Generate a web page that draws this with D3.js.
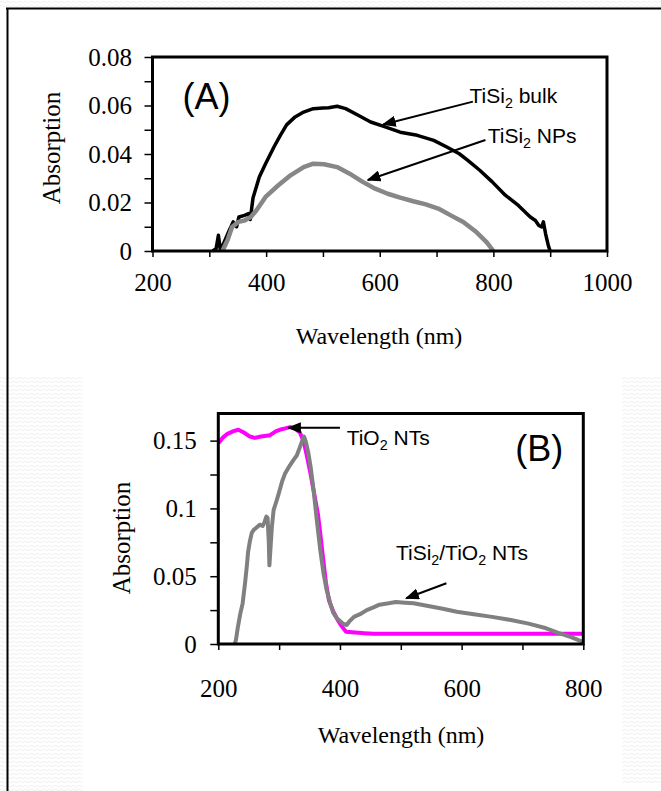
<!DOCTYPE html>
<html>
<head>
<meta charset="utf-8">
<script src="https://cdn.jsdelivr.net/npm/d3@7"></script>
<style>
  body { margin: 0; background: #fff; }
  svg { display: block; }
</style>
</head>
<body>
<svg id="fig" width="661" height="791"></svg>
<script>
// ---- panel (A) data ----
const bulkNm  = [306, 312, 316, 319, 325, 335, 342, 348, 352, 362, 369, 372, 377, 388, 399, 414, 425, 436, 451, 466, 483, 500, 510, 525, 540, 562, 584, 607, 636, 666, 695, 718, 740, 755, 776, 798, 821, 844, 859, 865, 874, 880, 885, 888, 892, 897, 900];
const bulkAbs = [0, 0.001, 0.0065, 0.001, 0.003, 0.0085, 0.012, 0.010, 0.014, 0.0147, 0.0154, 0.013, 0.022, 0.0305, 0.036, 0.043, 0.0477, 0.052, 0.0553, 0.0573, 0.0587, 0.059, 0.0591, 0.0597, 0.0587, 0.056, 0.0532, 0.0514, 0.049, 0.0477, 0.0456, 0.0429, 0.0401, 0.0374, 0.0333, 0.0285, 0.023, 0.0188, 0.0154, 0.014, 0.0126, 0.0105, 0.0099, 0.012, 0.007, 0.002, 0];
const npsNm  = [323, 332, 340, 351, 362, 373, 383, 399, 421, 443, 466, 483, 502, 525, 547, 570, 592, 614, 636, 659, 681, 703, 725, 747, 770, 788, 800];
const npsAbs = [0, 0.0044, 0.0099, 0.012, 0.0126, 0.014, 0.0168, 0.0223, 0.027, 0.0312, 0.0346, 0.0360, 0.0358, 0.0346, 0.0319, 0.0285, 0.0257, 0.0236, 0.022, 0.0205, 0.0192, 0.0175, 0.0147, 0.012, 0.0078, 0.0037, 0];

// ---- panel (B) data ----
const tio2Nm  = [200, 207, 215, 225, 233, 242, 252, 260, 270, 285, 295, 301, 310, 318, 326, 334, 340, 345, 351, 358, 364, 368, 372, 377, 382, 389, 396, 403, 410, 425, 440, 455, 600, 800];
const tio2Abs = [0.148, 0.152, 0.155, 0.157, 0.158, 0.156, 0.153, 0.152, 0.153, 0.154, 0.157, 0.158, 0.159, 0.160, 0.159, 0.156, 0.150, 0.140, 0.127, 0.110, 0.095, 0.080, 0.064, 0.045, 0.032, 0.024, 0.018, 0.013, 0.009, 0.0085, 0.008, 0.0075, 0.0075, 0.0075];
const compNm  = [227, 229, 232, 236, 240, 244, 247, 249, 252, 255, 258, 263, 268, 273, 276, 279, 281, 283, 284, 286, 288, 291, 296, 300, 305, 310, 318, 324, 329, 334, 338, 341, 344, 348, 352, 357, 362, 368, 373, 378, 384, 389, 395, 400, 405, 411, 416, 423, 433, 444, 455, 465, 480, 492, 507, 521, 545, 569, 592, 620, 650, 681, 710, 739, 760, 780, 798, 800];
const compAbs = [0, 0.003, 0.012, 0.022, 0.030, 0.045, 0.058, 0.068, 0.076, 0.082, 0.084, 0.086, 0.088, 0.087, 0.090, 0.094, 0.093, 0.075, 0.058, 0.072, 0.086, 0.099, 0.106, 0.112, 0.120, 0.126, 0.132, 0.136, 0.139, 0.145, 0.150, 0.153, 0.149, 0.141, 0.130, 0.112, 0.091, 0.068, 0.052, 0.040, 0.030, 0.023, 0.019, 0.017, 0.015, 0.014, 0.017, 0.020, 0.022, 0.025, 0.027, 0.029, 0.030, 0.031, 0.0305, 0.030, 0.028, 0.026, 0.0238, 0.022, 0.020, 0.0177, 0.015, 0.0116, 0.008, 0.005, 0.0017, 0.0015];

// ---- ticks ----
const aXTicks = [200, 300, 400, 500, 600, 700, 800, 900, 1000];
const aXLabels = [200, 400, 600, 800, 1000];
const aYTicks = [0, 0.01, 0.02, 0.03, 0.04, 0.05, 0.06, 0.07, 0.08];
const aYLabels = ["0", "0.02", "0.04", "0.06", "0.08"];
const bXTicks = [200, 300, 400, 500, 600, 700, 800];
const bXLabels = [200, 400, 600, 800];
const bYTicks = [0, 0.025, 0.05, 0.075, 0.1, 0.125, 0.15];
const bYLabels = ["0", "0.05", "0.1", "0.15"];

const serif = "'Liberation Serif', 'Times New Roman', serif";
const sans = "'Liberation Sans', Arial, sans-serif";

const svg = d3.select('#fig');

// light wavy texture in the background
const defs = svg.append('defs');
const pat = defs.append('pattern')
    .attr('id', 'tex').attr('width', 6).attr('height', 4)
    .attr('patternUnits', 'userSpaceOnUse');
pat.append('path').attr('d', 'M0,2 Q1.5,0.5 3,2 T6,2')
    .attr('fill', 'none').attr('stroke', '#efefef').attr('stroke-width', 1);
svg.append('rect').attr('x', 0).attr('y', 0).attr('width', 661).attr('height', 7).attr('fill', 'url(#tex)');
svg.append('rect').attr('x', 0).attr('y', 377).attr('width', 83).attr('height', 414).attr('fill', 'url(#tex)');
svg.append('rect').attr('x', 622).attr('y', 377).attr('width', 39).attr('height', 406).attr('fill', 'url(#tex)');

// outer frame
svg.append('line').attr('x1', 6).attr('x2', 661).attr('y1', 8.5).attr('y2', 8.5).attr('stroke', '#000').attr('stroke-width', 2);
svg.append('line').attr('x1', 7.5).attr('x2', 7.5).attr('y1', 8).attr('y2', 791).attr('stroke', '#000').attr('stroke-width', 2);

defs.append('marker')
    .attr('id', 'head').attr('viewBox', '0 0 10 8').attr('refX', 9).attr('refY', 4)
    .attr('markerWidth', 7).attr('markerHeight', 5.6).attr('markerUnits', 'strokeWidth')
    .attr('orient', 'auto')
    .append('path').attr('d', 'M0,0 L10,4 L0,8 Z').attr('fill', '#000');

function subText(g, x, y, parts, size) {
    // parts: [text, isSub, dy]
    let t = g.append('text').attr('x', x).attr('y', y)
        .attr('font-family', sans).attr('font-size', size).attr('fill', '#000');
    parts.forEach(p => {
        let ts = t.append('tspan').text(p[0]);
        if (p[1]) ts.attr('font-size', size * 0.68).attr('dy', size * 0.22);
        else ts.attr('dy', p[2] || 0);
    });
    return t;
}

function arrow(g, x1, y1, x2, y2) {
    g.append('line').attr('x1', x1).attr('y1', y1).attr('x2', x2).attr('y2', y2)
        .attr('stroke', '#000').attr('stroke-width', 2).attr('marker-end', 'url(#head)');
}

function drawPanel(cfg) {
    const x = d3.scaleLinear().domain(cfg.xDomain).range(cfg.xRange);
    const y = d3.scaleLinear().domain(cfg.yDomain).range(cfg.yRange);
    const g = svg.append('g');

    // y axis
    const yAx = g.append('g').attr('transform', `translate(${cfg.xRange[0]},0)`)
        .call(d3.axisLeft(y).tickValues(cfg.yTicks).tickSize(8).tickPadding(0)
            .tickFormat(d => {
                let i = cfg.yTicks.indexOf(d);
                return i % 2 === 0 ? cfg.yLabels[i / 2] : '';
            }));
    yAx.select('.domain').remove();
    yAx.selectAll('line').attr('stroke-width', 1.5);
    yAx.selectAll('text').attr('font-family', serif).attr('font-size', 25)
        .attr('fill', '#000').attr('x', -cfg.yLabelGap).attr('dy', '0.33em');

    // x axis
    const xAx = g.append('g').attr('transform', `translate(0,${cfg.yRange[0]})`)
        .call(d3.axisBottom(x).tickValues(cfg.xTicks).tickSize(6)
            .tickFormat(d => cfg.xLabels.includes(d) ? d : ''));
    xAx.select('.domain').remove();
    xAx.selectAll('line').attr('stroke-width', 1.5);
    xAx.selectAll('text').attr('font-family', serif).attr('font-size', 25)
        .attr('fill', '#000').attr('y', cfg.xLabelBase).attr('dy', 0);

    // series
    const line = d3.line().x(d => x(d[0])).y(d => y(d[1]));
    cfg.series.forEach(s => {
        g.append('path').datum(d3.zip(s.nm, s.abs))
            .attr('d', line).attr('fill', 'none')
            .attr('stroke', s.color).attr('stroke-width', s.width)
            .attr('stroke-linejoin', 'round');
    });

    // plot frame
    g.append('rect')
        .attr('x', cfg.xRange[0]).attr('y', cfg.yRange[1])
        .attr('width', cfg.xRange[1] - cfg.xRange[0])
        .attr('height', cfg.yRange[0] - cfg.yRange[1])
        .attr('fill', 'none').attr('stroke', '#000').attr('stroke-width', 3);

    // axis titles
    g.append('text').attr('transform', `translate(${cfg.yTitle[0]},${cfg.yTitle[1]}) rotate(-90)`)
        .attr('text-anchor', 'middle').attr('font-family', serif).attr('font-size', 25)
        .text('Absorption');
    g.append('text').attr('x', cfg.xTitle[0]).attr('y', cfg.xTitle[1])
        .attr('text-anchor', 'middle').attr('font-family', serif).attr('font-size', 24)
        .text('Wavelength (nm)');

    // panel letter
    g.append('text').attr('x', x(cfg.letter[0])).attr('y', y(cfg.letter[1]))
        .attr('font-family', sans).attr('font-size', 36).text(cfg.letter[2]);

    // annotations
    cfg.notes.forEach(n => {
        subText(g, x(n.at[0]), y(n.at[1]), n.parts, 21);
        arrow(g, x(n.from[0]), y(n.from[1]), x(n.to[0]), y(n.to[1]));
    });
}

drawPanel({
    xDomain: [200, 1000], xRange: [152.5, 607],
    yDomain: [0, 0.08], yRange: [251, 57],
    xTicks: aXTicks, xLabels: aXLabels, yTicks: aYTicks, yLabels: aYLabels,
    yLabelGap: 20.5, xLabelBase: 40,
    yTitle: [60, 148], xTitle: [379, 344],
    letter: [253, 0.0584, '(A)'],
    series: [
        { nm: bulkNm, abs: bulkAbs, color: '#000', width: 3.5 },
        { nm: npsNm, abs: npsAbs, color: '#878787', width: 4.5 }
    ],
    notes: [
        { at: [758, 0.0610], parts: [['TiSi'], ['2', true], [' bulk', false, -21 * 0.22]], from: [764, 0.0616], to: [606, 0.0522] },
        { at: [790, 0.0445], parts: [['TiSi'], ['2', true], [' NPs', false, -21 * 0.22]], from: [786, 0.0458], to: [579, 0.0293] }
    ]
});

drawPanel({
    xDomain: [200, 800], xRange: [218.3, 583.3],
    yDomain: [0, 0.17], yRange: [644, 413.5],
    xTicks: bXTicks, xLabels: bXLabels, yTicks: bYTicks, yLabels: bYLabels,
    yLabelGap: 21.6, xLabelBase: 53,
    yTitle: [130, 538], xTitle: [401, 743],
    letter: [688, 0.1353, '(B)'],
    series: [
        { nm: tio2Nm, abs: tio2Abs, color: '#ff00ff', width: 4 },
        { nm: compNm, abs: compAbs, color: '#808080', width: 4 }
    ],
    notes: [
        { at: [411, 0.1468], parts: [['TiO'], ['2', true], [' NTs', false, -21 * 0.22]], from: [400, 0.1595], to: [315, 0.1595] },
        { at: [492, 0.062], parts: [['TiSi'], ['2', true], ['/TiO', false, -21 * 0.22], ['2', true], [' NTs', false, -21 * 0.22]], from: [575, 0.0448], to: [509, 0.0337] }
    ]
});
</script>
</body>
</html>
